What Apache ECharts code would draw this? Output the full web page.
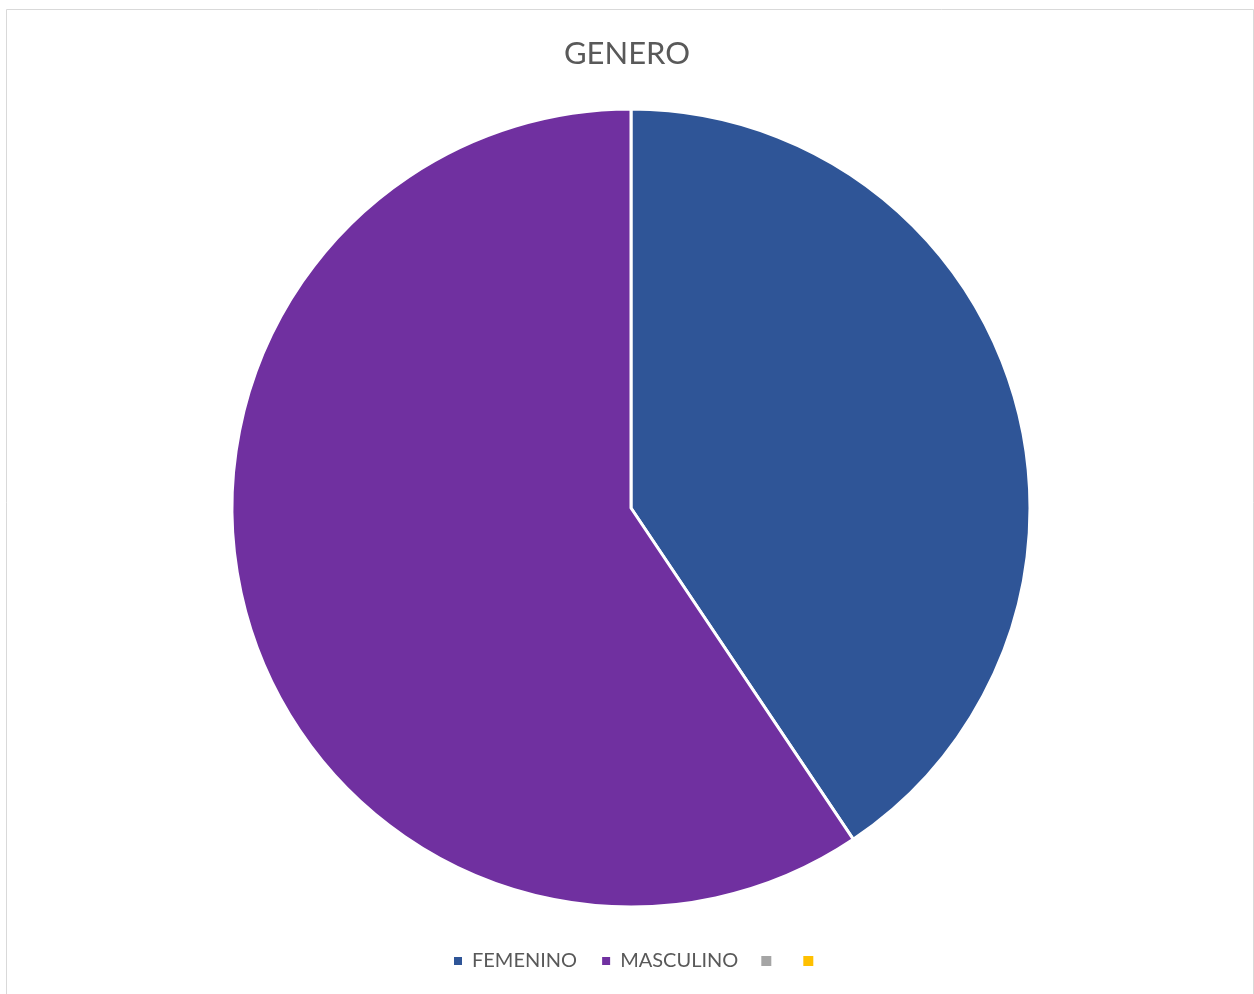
<!DOCTYPE html>
<html>
<head>
<meta charset="utf-8">
<style>
  html, body { margin: 0; padding: 0; background: #ffffff; }
  #chart { width: 1254px; height: 994px; }
</style>
<script src="https://cdn.jsdelivr.net/npm/echarts@6/dist/echarts.min.js"></script>
</head>
<body>
<div id="chart"></div>
<script>
// Gender breakdown; the last two categories are unnamed, empty entries
const categories = ['FEMENINO', 'MASCULINO', '\u200b', '\u200b\u200b'];
const values = [41, 60, 0, 0];
const colors = ['#2F5597', '#7030A0', '#A5A5A5', '#FFC000'];
const titleText = 'GENERO';

const chart = echarts.init(document.getElementById('chart'), null, { renderer: 'canvas' });

const pieData = categories.map((name, i) => ({
  name: name,
  value: values[i],
  itemStyle: {
    color: colors[i],
    borderColor: '#ffffff',
    borderWidth: values[i] > 0 ? 3 : 0
  }
}));

chart.setOption({
  backgroundColor: '#ffffff',
  animation: false,
  title: {
    text: titleText,
    left: 'center',
    top: 33,
    textStyle: {
      fontFamily: 'Lato',
      fontSize: 31,
      fontWeight: 'normal',
      color: '#595959'
    }
  },
  legend: {
    data: categories,
    bottom: 18,
    left: 447,
    itemWidth: 10,
    itemHeight: 10,
    itemGap: 23,
    icon: 'rect',
    textStyle: {
      fontFamily: 'Lato',
      fontSize: 20,
      color: '#595959',
      padding: [0, 0, 0, 4]
    }
  },
  graphic: [{
    type: 'rect',
    shape: { x: 6.5, y: 9.5, width: 1247, height: 1000 },
    style: { fill: 'none', stroke: '#d9d9d9', lineWidth: 1 },
    silent: true,
    z: -1
  }],
  series: [{
    type: 'pie',
    center: [631, 508],
    radius: [0, 399],
    startAngle: 90,
    clockwise: true,
    label: { show: false },
    labelLine: { show: false },
    emphasis: { disabled: true },
    data: pieData
  }]
});
</script>
</body>
</html>
